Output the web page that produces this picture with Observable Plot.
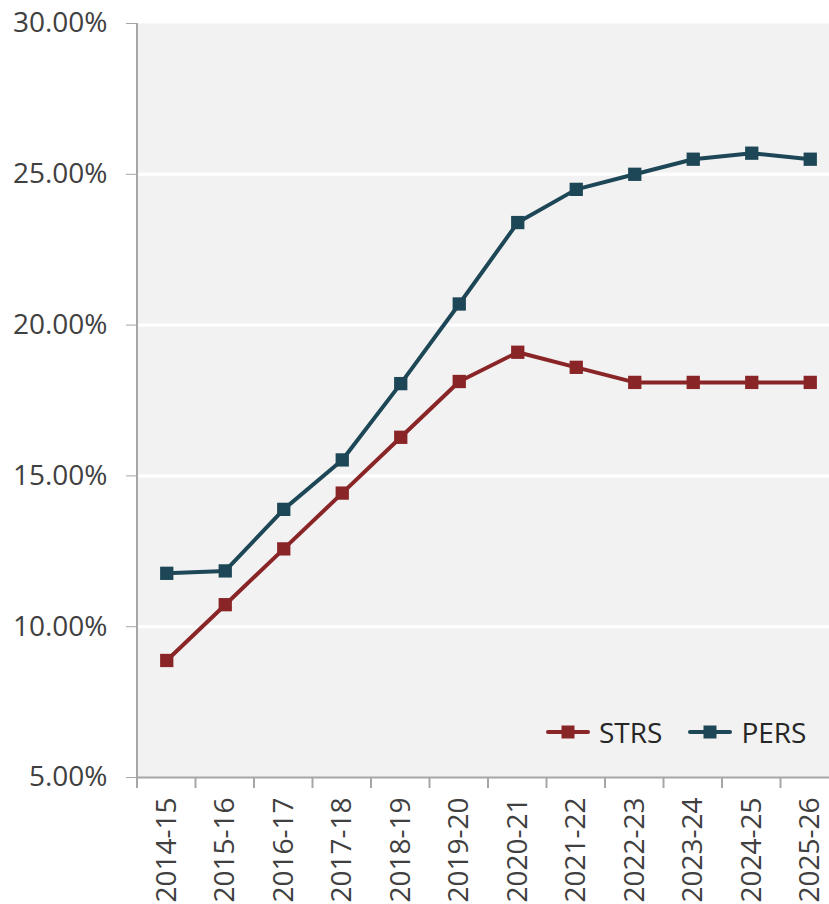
<!DOCTYPE html>
<html><head><meta charset="utf-8">
<script src="https://cdn.jsdelivr.net/npm/d3@7"></script>
<script src="https://cdn.jsdelivr.net/npm/@observablehq/plot@0.6"></script>
<style>
body{margin:0;background:#fff;font-family:"Open Sans",sans-serif;}
#wrap{position:relative;width:829px;height:904px;}
.legend{position:absolute;left:546px;top:713px;display:flex;align-items:center;gap:26px;font-size:28px;color:#262626;}
.legend .item{display:flex;align-items:center;gap:9px;}
</style>
</head><body><div id="wrap"></div>
<script>
const years = ["2014-15","2015-16","2016-17","2017-18","2018-19","2019-20","2020-21","2021-22","2022-23","2023-24","2024-25","2025-26"];
const series = ["STRS","PERS"];
const colors = ["#8a2527","#1d4756"];
const strs = [8.88,10.73,12.58,14.43,16.28,18.13,19.10,18.60,18.10,18.10,18.10,18.10];
const pers = [11.77,11.85,13.89,15.53,18.06,20.70,23.40,24.50,25.00,25.50,25.70,25.50];
const yTicks = [5,10,15,20,25,30];
const gridValues = [10,15,20,25];

const data = years.flatMap((y,i)=>[
  {year:y, series:"STRS", value:strs[i]},
  {year:y, series:"PERS", value:pers[i]}
]);

const chart = Plot.plot({
  width:829, height:904,
  marginLeft:137, marginRight:0, marginTop:23, marginBottom:127,
  style:{fontFamily:"Open Sans", fontSize:"28px", color:"#404040", background:"white"},
  x:{type:"band", domain:years, range:[137,839], padding:0, round:false, axis:null},
  y:{domain:[5,30], axis:null},
  color:{domain:series, range:colors},
  marks:[
    Plot.frame({fill:"#f2f2f2"}),
    Plot.ruleY(gridValues,{stroke:"white", strokeWidth:3}),
    Plot.ruleY([5],{stroke:"#a6a6a6", strokeWidth:2}),
    Plot.axisY({ticks:yTicks, tickFormat:d=>d.toFixed(2)+"%", tickSize:11, tickPadding:19, stroke:"#a6a6a6", fill:"#404040", label:null}),
    Plot.axisX({tickSize:0, tickPadding:20, tickRotate:-90, fill:"#404040", label:null}),
    Plot.line(data,{x:"year", y:"value", stroke:"series", strokeWidth:4}),
    Plot.dot(data,{x:"year", y:"value", fill:"series", symbol:"square", r:7.5})
  ]
});

// axis line and band-boundary ticks from the library's scales
const xs = chart.scale("x"), ys = chart.scale("y");
const svg = d3.select(chart);
const y0 = ys.apply(5), y1 = ys.apply(30);
svg.append("line").attr("x1",xs.range[0]).attr("x2",xs.range[0]).attr("y1",y1).attr("y2",y0)
  .attr("stroke","#a6a6a6").attr("stroke-width",2);
const bounds = years.map(y=>xs.apply(y)).concat([xs.range[1]]);
svg.append("g").selectAll("line").data(bounds).join("line")
  .attr("x1",d=>d).attr("x2",d=>d).attr("y1",y0).attr("y2",y0+11)
  .attr("stroke","#a6a6a6").attr("stroke-width",2);

const wrap = document.getElementById("wrap");
wrap.appendChild(chart);

const legend = document.createElement("div");
legend.className = "legend";
series.forEach((s,i)=>{
  const item = document.createElement("div");
  item.className = "item";
  item.innerHTML = `<svg width="44" height="16"><line x1="2" x2="42" y1="8" y2="8" stroke="${colors[i]}" stroke-width="4" stroke-linecap="round"/><rect x="15.5" y="1.5" width="13" height="13" fill="${colors[i]}"/></svg><span>${s}</span>`;
  legend.appendChild(item);
});
wrap.appendChild(legend);
</script>
</body></html>
